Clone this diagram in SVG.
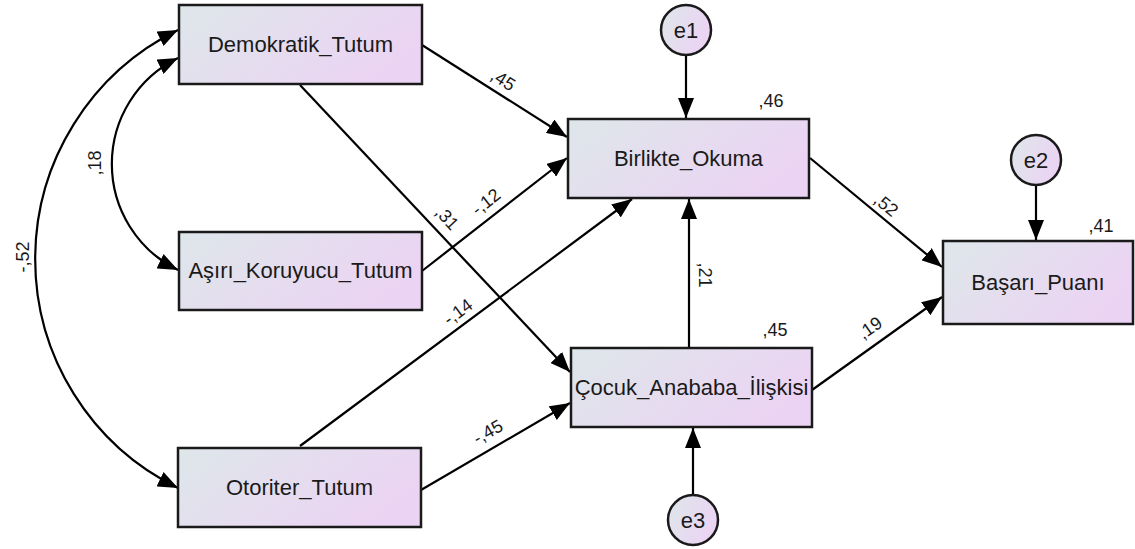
<svg xmlns="http://www.w3.org/2000/svg" width="1135" height="549" viewBox="0 0 1135 549">
<style>
.box{fill:url(#g);stroke:#1a1a1a;stroke-width:2.5}
.lbl{font-family:"Liberation Sans",Arial,sans-serif;font-size:22px;fill:#1a1a1a;text-anchor:middle}
.coef{font-family:"Liberation Sans",Arial,sans-serif;font-size:18px;fill:#1a1a1a;text-anchor:middle}
.c{fill:none;stroke:#000;stroke-width:2.2}
</style>
<defs>
<linearGradient id="g" x1="0" y1="0" x2="1" y2="0.4">
<stop offset="0" stop-color="#dee7ea"/>
<stop offset="1" stop-color="#ebd4f3"/>
</linearGradient>
<marker id="a" markerUnits="userSpaceOnUse" markerWidth="21" markerHeight="16" refX="20" refY="8" orient="auto-start-reverse">
<path d="M0,0 L20,8 L0,16 z" fill="#000"/>
</marker>
</defs>
<rect width="1135" height="549" fill="#fff"/>
<g id="connectors">
<path class="c" d="M178,30 A255,255 0 0 0 178,488" marker-start="url(#a)" marker-end="url(#a)"/>
<path class="c" d="M178,58 A118,118 0 0 0 178,270" marker-start="url(#a)" marker-end="url(#a)"/>
<line class="c" x1="422" y1="45" x2="567" y2="137" marker-end="url(#a)"/>
<line class="c" x1="422" y1="271" x2="567" y2="158" marker-end="url(#a)"/>
<line class="c" x1="300" y1="446" x2="632" y2="199" marker-end="url(#a)"/>
<line class="c" x1="300" y1="85" x2="570" y2="372" marker-end="url(#a)"/>
<line class="c" x1="421" y1="490" x2="570" y2="403" marker-end="url(#a)"/>
<line class="c" x1="689" y1="348" x2="689" y2="199" marker-end="url(#a)"/>
<line class="c" x1="810" y1="158" x2="942" y2="267" marker-end="url(#a)"/>
<line class="c" x1="812" y1="390" x2="942" y2="297" marker-end="url(#a)"/>
<line class="c" x1="686" y1="56" x2="686" y2="118" marker-end="url(#a)"/>
<line class="c" x1="1036" y1="186" x2="1036" y2="240" marker-end="url(#a)"/>
<line class="c" x1="693" y1="494" x2="693" y2="428" marker-end="url(#a)"/>
<text class="coef" transform="translate(503,80) rotate(32)" y="6">,45</text>
<text class="coef" transform="translate(486,202) rotate(-38)" y="6">-,12</text>
<text class="coef" transform="translate(447,218) rotate(47)" y="6">,31</text>
<text class="coef" transform="translate(458,312) rotate(-36.5)" y="6">-,14</text>
<text class="coef" transform="translate(488,432) rotate(-30)" y="6">-,45</text>
<text class="coef" transform="translate(705,275) rotate(90)" y="6">,21</text>
<text class="coef" transform="translate(886,205) rotate(39)" y="6">,52</text>
<text class="coef" transform="translate(870,328) rotate(-35)" y="6">,19</text>
<text class="coef" transform="translate(95,163) rotate(-90)" y="6">,18</text>
<text class="coef" transform="translate(23,257) rotate(-90)" y="6">-,52</text>
<text class="coef" x="771" y="107">,46</text>
<text class="coef" x="1101" y="232">,41</text>
<text class="coef" x="775" y="336">,45</text>
</g>
<g id="Demokratik_Tutum"><rect class="box" x="179" y="5" width="243" height="79"/><text class="lbl" x="300.5" y="52">Demokratik_Tutum</text></g>
<g id="Asiri_Koruyucu_Tutum"><rect class="box" x="179" y="232" width="243" height="78"/><text class="lbl" x="300.5" y="278">Aşırı_Koruyucu_Tutum</text></g>
<g id="Otoriter_Tutum"><rect class="box" x="178" y="448" width="243" height="79"/><text class="lbl" x="299.5" y="495">Otoriter_Tutum</text></g>
<g id="Birlikte_Okuma"><rect class="box" x="568" y="119" width="241" height="79"/><text class="lbl" x="688.5" y="166">Birlikte_Okuma</text></g>
<g id="Cocuk_Anababa_Iliskisi"><rect class="box" x="571" y="348" width="241" height="79"/><text class="lbl" x="691.5" y="395">Çocuk_Anababa_İlişkisi</text></g>
<g id="Basari_Puani"><rect class="box" x="943" y="241" width="190" height="83"/><text class="lbl" x="1038" y="290">Başarı_Puanı</text></g>
<g id="e1"><circle class="box" cx="686" cy="30" r="25"/><text class="lbl" x="686" y="38">e1</text></g>
<g id="e2"><circle class="box" cx="1036" cy="160" r="25"/><text class="lbl" x="1036" y="168">e2</text></g>
<g id="e3"><circle class="box" cx="693" cy="520" r="25"/><text class="lbl" x="693" y="528">e3</text></g>
</svg>
